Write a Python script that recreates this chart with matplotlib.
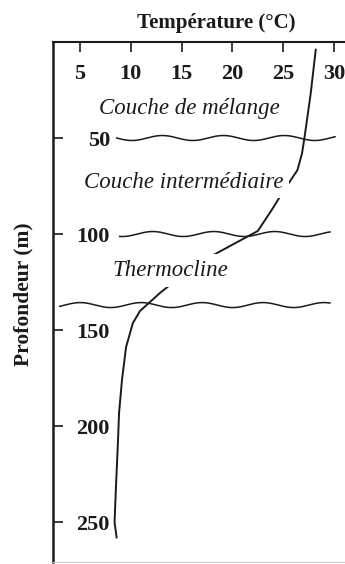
import matplotlib
matplotlib.use("Agg")
import matplotlib.pyplot as plt
import numpy as np

# Temperature profile (depth in m, temperature in degC)
depth = [4, 27, 49.5, 58, 66.7, 77, 88, 98.4, 111, 120, 130.7, 140.1, 146.4,
         158.9, 176, 193.2, 207.3, 230, 250, 258]
temp = [28.2, 27.7, 27.1, 26.85, 26.4, 25.1, 23.8, 22.5, 18.1, 15.4, 12.87, 10.9, 10.2,
        9.53, 9.13, 8.84, 8.74, 8.55, 8.4, 8.6]

# Layer boundaries: depth and horizontal extent (degC)
boundary_depth = [50, 100, 137]
boundary_start = [8.6, 8.9, 3.0]
boundary_end = [30.1, 29.6, 29.6]

x_ticks = [5, 10, 15, 20, 25, 30]
y_ticks = [50, 100, 150, 200, 250]

layer_names = ["Couche de mélange", "Couche intermédiaire", "Thermocline"]
layer_x = [15.8, 15.2, 13.9]
layer_y = [34.4, 73.0, 119.0]

ink = "#1a1a1a"
serif = "Liberation Serif"

fig = plt.figure(figsize=(3.45, 5.64), dpi=100)
ax = fig.add_axes([53 / 345, 2 / 564, 292 / 345, 520 / 564])
ax.set_xlim(2.34, 31.08)
ax.set_ylim(270.8, 0)

# wavy boundary lines
for i, (d, t0, t1) in enumerate(zip(boundary_depth, boundary_start, boundary_end)):
    tt = np.linspace(t0, t1, 300)
    wiggle = 1.3 * np.sin(2 * np.pi * (tt - t0) / 6.0 + i * 1.3)
    ax.plot(tt, d + wiggle, color=ink, lw=1.1, zorder=2)

ax.plot(temp, depth, color=ink, lw=1.4, zorder=2, solid_joinstyle="round")

bbox = dict(boxstyle="square,pad=0.25", fc="white", ec="none")
for name, x, y in zip(layer_names, layer_x, layer_y):
    ax.text(x, y, name, ha="center", va="center", fontsize=16.5, style="italic",
            family=serif, color=ink, bbox=bbox, zorder=3)

ax.xaxis.tick_top()
ax.set_xticks(x_ticks)
ax.set_yticks(y_ticks)
ax.tick_params(axis="x", direction="in", length=7, width=1.2, pad=-30, colors=ink)
ax.tick_params(axis="y", direction="in", length=7, width=1.2, pad=-41, colors=ink)
for lab in ax.get_xticklabels() + ax.get_yticklabels():
    lab.set_fontfamily(serif)
    lab.set_fontweight("bold")
    lab.set_fontsize(16)

ax.spines["right"].set_visible(False)
ax.spines["top"].set_linewidth(1.5)
ax.spines["left"].set_linewidth(1.8)
ax.spines["bottom"].set_color("#cccccc")
ax.spines["bottom"].set_linewidth(0.8)
for s in ("top", "left"):
    ax.spines[s].set_color(ink)

ax.text(0.558, 1.036, "Température (°C)", transform=ax.transAxes, ha="center",
        va="center", fontsize=15, fontweight="bold", family=serif, color=ink)
ax.text(-0.1, 0.515, "Profondeur (m)", transform=ax.transAxes, ha="center",
        va="center", rotation=90, fontsize=15.5, fontweight="bold", family=serif, color=ink)

fig.savefig("out.png", dpi=100)
